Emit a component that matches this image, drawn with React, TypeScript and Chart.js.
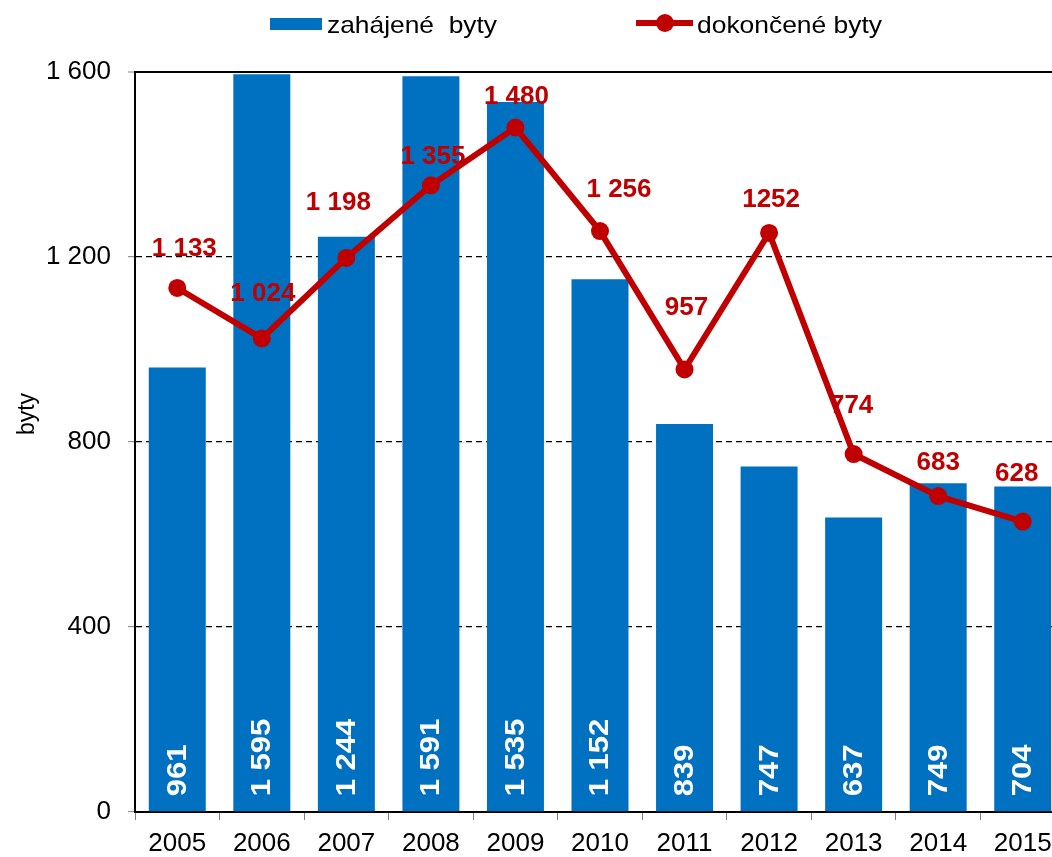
import React, { useEffect, useRef } from 'react';
import { Chart, registerables } from 'chart.js';

Chart.register(...registerables);

const years = ['2005', '2006', '2007', '2008', '2009', '2010', '2011', '2012', '2013', '2014', '2015'];
// bar heights as drawn
const startedBars = [961, 1595, 1244, 1591, 1535, 1152, 839, 747, 637, 711, 704];
// numbers printed on the bars
const startedLabels = ['961', '1 595', '1 244', '1 591', '1 535', '1 152', '839', '747', '637', '749', '704'];
const completedValues = [1133, 1024, 1198, 1355, 1480, 1256, 957, 1252, 774, 683, 628];
const completedLabels = ['1 133', '1 024', '1 198', '1 355', '1 480', '1 256', '957', '1252', '774', '683', '628'];
const yMin = 0;
const yMax = 1600;
const yStep = 400;

// label placement (style)
const lineLabelOffsets = [
  [7, -39], [1, -45], [-8, -55], [2, -28], [1, -31], [19, -41],
  [2, -62], [2, -33], [-2, -48], [0, -33], [-6, -48],
];

const BLUE = '#0070C0';
const RED = '#C00000';
const FONT = "'Liberation Sans', Arial, sans-serif";

function fmt(v: number): string {
  if (v >= 1000) {
    return Math.floor(v / 1000) + ' ' + String(v % 1000).padStart(3, '0');
  }
  return String(v);
}

function drawStretched(ctx: CanvasRenderingContext2D, text: string, x: number, baseline: number, width: number) {
  const w = ctx.measureText(text).width;
  ctx.save();
  ctx.translate(x, baseline);
  ctx.scale(width / w, 1);
  ctx.textAlign = 'left';
  ctx.textBaseline = 'alphabetic';
  ctx.fillText(text, 0, 0);
  ctx.restore();
}

const decorPlugin = {
  id: 'decor',
  afterDatasetsDraw(chart: any) {
    const ctx: CanvasRenderingContext2D = chart.ctx;
    // bar labels
    const barMeta = chart.getDatasetMeta(0);
    barMeta.data.forEach((bar: any, i: number) => {
      const p = bar.getProps(['x', 'base'], true);
      ctx.save();
      ctx.translate(p.x + 1, p.base - 15);
      ctx.rotate(-Math.PI / 2);
      ctx.scale(1.15, 1);
      ctx.font = `bold 27px ${FONT}`;
      ctx.fillStyle = '#ffffff';
      ctx.textAlign = 'left';
      ctx.textBaseline = 'middle';
      ctx.fillText(startedLabels[i], 0, 0);
      ctx.restore();
    });
    // line labels
    const lineMeta = chart.getDatasetMeta(1);
    lineMeta.data.forEach((pt: any, i: number) => {
      const p = pt.getProps(['x', 'y'], true);
      const off = lineLabelOffsets[i];
      ctx.save();
      ctx.font = `bold 26px ${FONT}`;
      ctx.fillStyle = RED;
      ctx.textAlign = 'center';
      ctx.textBaseline = 'middle';
      ctx.fillText(completedLabels[i], p.x + off[0], p.y + off[1]);
      ctx.restore();
    });
  },
  afterDraw(chart: any) {
    const ctx: CanvasRenderingContext2D = chart.ctx;
    ctx.save();
    // legend item 1
    ctx.fillStyle = BLUE;
    ctx.fillRect(270, 18, 52, 12);
    ctx.fillStyle = '#000';
    ctx.font = `24px ${FONT}`;
    drawStretched(ctx, 'zahájené  byty', 327, 33, 170);
    // legend item 2
    ctx.strokeStyle = RED;
    ctx.lineWidth = 6;
    ctx.beginPath();
    ctx.moveTo(636, 23);
    ctx.lineTo(693, 23);
    ctx.stroke();
    ctx.fillStyle = RED;
    ctx.beginPath();
    ctx.arc(665, 23, 9, 0, Math.PI * 2);
    ctx.fill();
    ctx.fillStyle = '#000';
    drawStretched(ctx, 'dokončené byty', 697, 33, 185);
    // y title
    ctx.translate(28, 414);
    ctx.rotate(-Math.PI / 2);
    ctx.font = `23px ${FONT}`;
    ctx.textAlign = 'center';
    ctx.textBaseline = 'middle';
    ctx.fillText('byty', 0, 0);
    ctx.restore();
  },
};

export default function App() {
  const ref = useRef<HTMLCanvasElement | null>(null);

  useEffect(() => {
    if (!ref.current) return;
    const chart = new Chart(ref.current, {
      type: 'bar',
      data: {
        labels: years,
        datasets: [
          {
            type: 'bar',
            label: 'zahájené  byty',
            data: startedBars,
            backgroundColor: BLUE,
            borderWidth: 0,
            barPercentage: 0.674,
            categoryPercentage: 1,
            order: 2,
          } as any,
          {
            type: 'line',
            label: 'dokončené byty',
            data: completedValues,
            borderColor: RED,
            backgroundColor: RED,
            borderWidth: 6,
            pointRadius: 9,
            pointHoverRadius: 9,
            pointBackgroundColor: RED,
            pointBorderWidth: 0,
            tension: 0,
            order: 1,
          } as any,
        ],
      },
      options: {
        responsive: false,
        animation: false,
        devicePixelRatio: 1,
        layout: { padding: { left: 0, right: 20, top: 72, bottom: 0 } },
        plugins: {
          legend: { display: false },
          tooltip: { enabled: false },
        },
        scales: {
          x: {
            offset: true,
            grid: {
              display: true,
              offset: true,
              drawOnChartArea: false,
              drawTicks: true,
              tickLength: 8,
              tickColor: '#808080',
              tickWidth: 1,
            },
            border: { display: true, color: '#000', width: 2 },
            ticks: {
              color: '#000',
              font: { family: FONT, size: 26 },
              padding: 8,
              maxRotation: 0,
              autoSkip: false,
            },
            afterFit: (s: any) => {
              s.height = 45;
            },
          },
          y: {
            min: yMin,
            max: yMax,
            grid: {
              color: (c: any) => (c.tick && c.tick.value === yMin ? 'rgba(0,0,0,0)' : '#000'),
              lineWidth: (c: any) => (c.tick && c.tick.value === yMax ? 2 : 1.3),
              drawTicks: true,
              tickLength: 7,
              tickColor: '#808080',
              tickWidth: 1,
            },
            border: {
              display: true,
              color: '#000',
              width: 2,
              dash: (c: any) => (c.tick && c.tick.value === yMax ? [] : [6, 4]),
            } as any,
            ticks: {
              stepSize: yStep,
              color: '#000',
              font: { family: FONT, size: 26 },
              padding: 17,
              callback: (v: any) => fmt(Number(v)),
            },
            afterFit: (s: any) => {
              s.width = 135;
            },
          },
        },
      } as any,
      plugins: [decorPlugin],
    });
    return () => chart.destroy();
  }, []);

  return (
    <div
      style={{
        position: 'fixed',
        left: 0,
        top: 0,
        width: 1052,
        height: 857,
        overflow: 'hidden',
        background: '#fff',
      }}
    >
      <canvas ref={ref} width={1085} height={857} style={{ display: 'block' }} />
    </div>
  );
}
